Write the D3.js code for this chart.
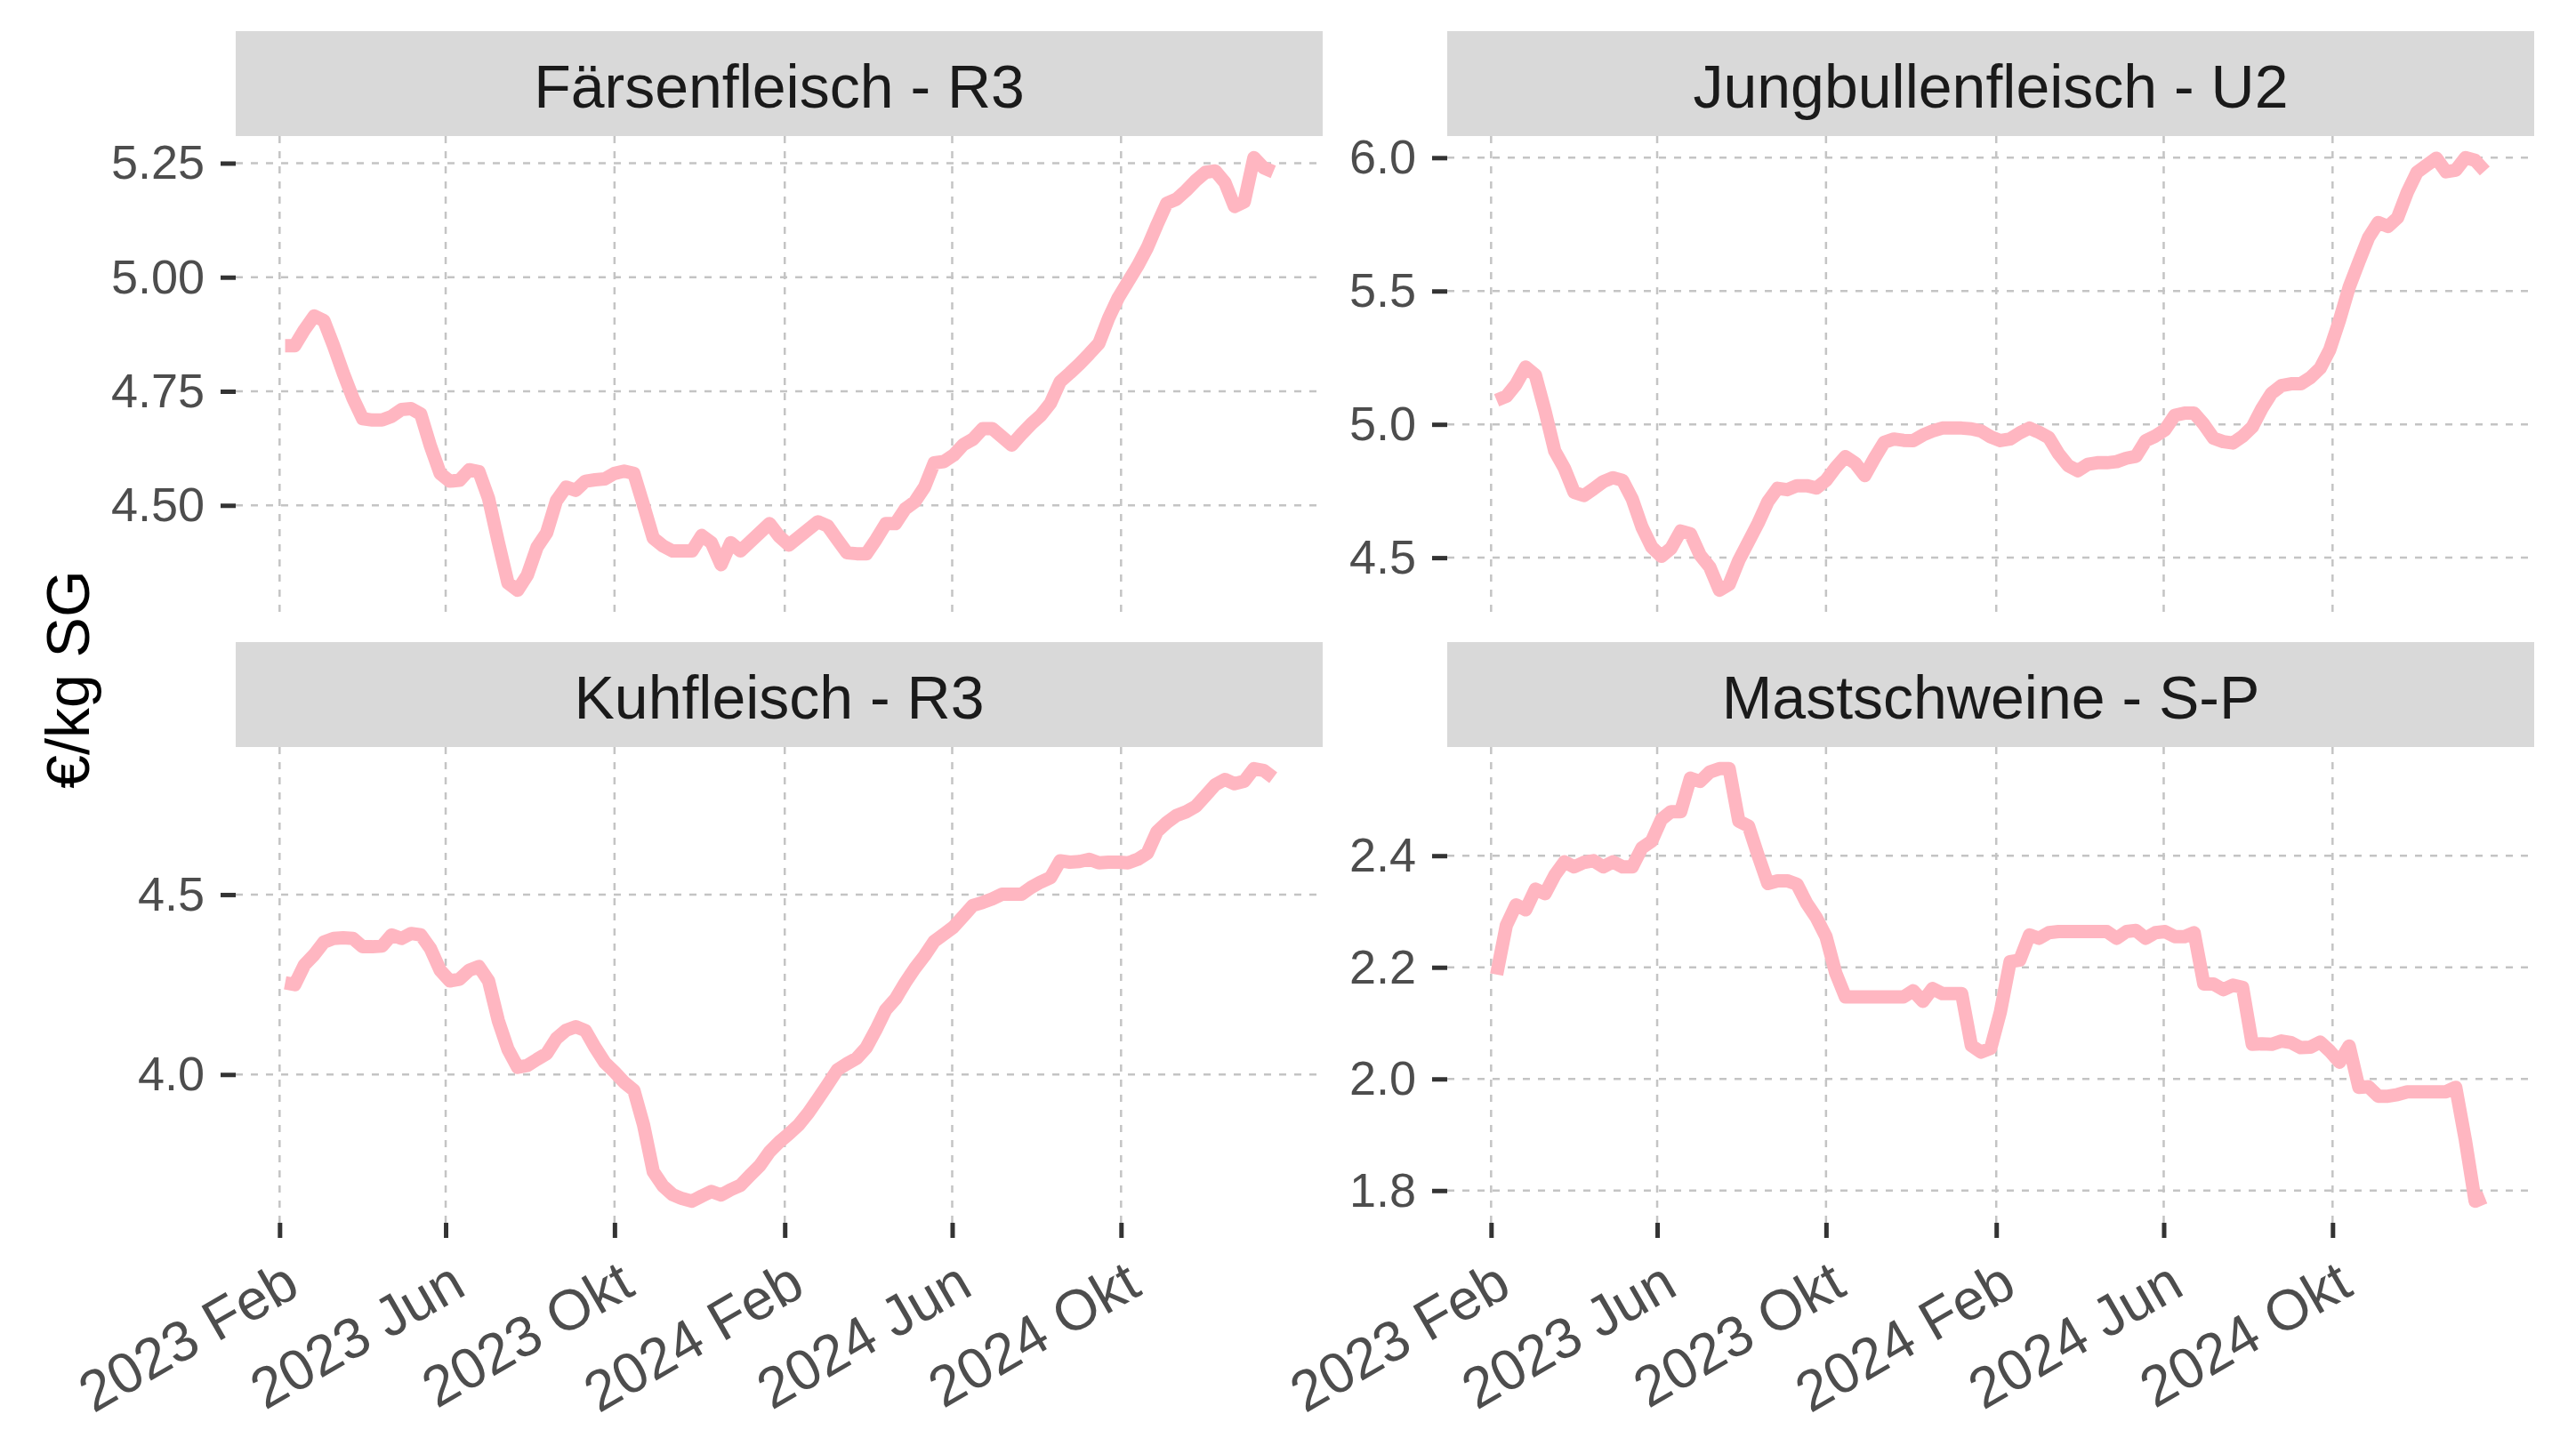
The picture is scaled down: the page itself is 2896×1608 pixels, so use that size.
<!DOCTYPE html>
<html>
<head>
<meta charset="utf-8">
<script src="https://cdn.jsdelivr.net/npm/d3@7"></script>
<style>
  html, body { margin: 0; padding: 0; background: #fff; }
  svg { display: block; }
</style>
</head>
<body>
<svg id="chart" width="2896" height="1608"></svg>
<script>
/* ============================================================
   Schlachtpreise — 4 facets (free y), weekly prices in €/kg SG
   ============================================================ */

// weekly reporting dates (Sundays)
var weeks = [
  "2023-02-05", "2023-02-12", "2023-02-19", "2023-02-26", "2023-03-05", "2023-03-12", "2023-03-19", "2023-03-26",
  "2023-04-02", "2023-04-09", "2023-04-16", "2023-04-23", "2023-04-30", "2023-05-07", "2023-05-14", "2023-05-21",
  "2023-05-28", "2023-06-04", "2023-06-11", "2023-06-18", "2023-06-25", "2023-07-02", "2023-07-09", "2023-07-16",
  "2023-07-23", "2023-07-30", "2023-08-06", "2023-08-13", "2023-08-20", "2023-08-27", "2023-09-03", "2023-09-10",
  "2023-09-17", "2023-09-24", "2023-10-01", "2023-10-08", "2023-10-15", "2023-10-22", "2023-10-29", "2023-11-05",
  "2023-11-12", "2023-11-19", "2023-11-26", "2023-12-03", "2023-12-10", "2023-12-17", "2023-12-24", "2023-12-31",
  "2024-01-07", "2024-01-14", "2024-01-21", "2024-01-28", "2024-02-04", "2024-02-11", "2024-02-18", "2024-02-25",
  "2024-03-03", "2024-03-10", "2024-03-17", "2024-03-24", "2024-03-31", "2024-04-07", "2024-04-14", "2024-04-21",
  "2024-04-28", "2024-05-05", "2024-05-12", "2024-05-19", "2024-05-26", "2024-06-02", "2024-06-09", "2024-06-16",
  "2024-06-23", "2024-06-30", "2024-07-07", "2024-07-14", "2024-07-21", "2024-07-28", "2024-08-04", "2024-08-11",
  "2024-08-18", "2024-08-25", "2024-09-01", "2024-09-08", "2024-09-15", "2024-09-22", "2024-09-29", "2024-10-06",
  "2024-10-13", "2024-10-20", "2024-10-27", "2024-11-03", "2024-11-10", "2024-11-17", "2024-11-24", "2024-12-01",
  "2024-12-08", "2024-12-15", "2024-12-22", "2024-12-29", "2025-01-05", "2025-01-12", "2025-01-19"
];

var faersen = [
  4.85, 4.85, 4.885, 4.915, 4.905, 4.85, 4.79, 4.735, 4.69, 4.687,
  4.687, 4.695, 4.71, 4.712, 4.70, 4.63, 4.57, 4.553, 4.555, 4.578,
  4.574, 4.515, 4.42, 4.33, 4.314, 4.347, 4.408, 4.44, 4.51, 4.54,
  4.533, 4.553, 4.556, 4.558, 4.57, 4.575, 4.57, 4.50, 4.428, 4.411,
  4.40, 4.40, 4.40, 4.434, 4.418, 4.37, 4.418, 4.40, 4.42, 4.44,
  4.46, 4.432, 4.413, 4.43, 4.447, 4.464, 4.455, 4.425, 4.396, 4.394,
  4.394, 4.425, 4.46, 4.46, 4.492, 4.508, 4.54, 4.593, 4.596, 4.61,
  4.633, 4.645, 4.668, 4.668, 4.65, 4.632, 4.656, 4.678, 4.697, 4.724,
  4.771, 4.79, 4.81, 4.832, 4.855, 4.91, 4.955, 4.99, 5.025, 5.065,
  5.115, 5.162, 5.171, 5.19, 5.212, 5.23, 5.233, 5.208, 5.155, 5.165,
  5.262, 5.24, 5.231
];

var jungbullen = [
  5.09, 5.105, 5.15, 5.215, 5.185, 5.05, 4.90, 4.835, 4.745, 4.733,
  4.758, 4.785, 4.80, 4.79, 4.72, 4.615, 4.54, 4.505, 4.535, 4.60,
  4.59, 4.51, 4.465, 4.378, 4.40, 4.49, 4.56, 4.63, 4.71, 4.76,
  4.755, 4.77, 4.77, 4.761, 4.79, 4.838, 4.879, 4.855, 4.808, 4.873,
  4.933, 4.945, 4.94, 4.939, 4.96, 4.975, 4.986, 4.986, 4.986, 4.983,
  4.975, 4.953, 4.939, 4.945, 4.968, 4.986, 4.97, 4.95, 4.89, 4.845,
  4.826, 4.85, 4.856, 4.856, 4.86, 4.873, 4.88, 4.939, 4.956, 4.98,
  5.034, 5.042, 5.042, 5.00, 4.948, 4.935, 4.93, 4.955, 4.99, 5.06,
  5.117, 5.145, 5.152, 5.152, 5.175, 5.21, 5.28, 5.39, 5.514, 5.609,
  5.70, 5.757, 5.742, 5.775, 5.87, 5.945, 5.972, 5.998, 5.947, 5.953,
  6.0, 5.99, 5.95
];

var kuh = [
  4.255, 4.25, 4.305, 4.333, 4.368, 4.378, 4.38, 4.378, 4.355, 4.355,
  4.357, 4.388, 4.378, 4.392, 4.388, 4.35, 4.29, 4.26, 4.265, 4.29,
  4.30, 4.26, 4.15, 4.07, 4.02, 4.025, 4.042, 4.058, 4.10, 4.123,
  4.133, 4.122, 4.075, 4.033, 4.007, 3.978, 3.956, 3.86, 3.73, 3.69,
  3.666, 3.655, 3.648, 3.662, 3.675, 3.665, 3.68, 3.692, 3.72, 3.747,
  3.785, 3.812, 3.835, 3.86, 3.893, 3.932, 3.972, 4.013, 4.03, 4.045,
  4.075, 4.125, 4.18, 4.21, 4.255, 4.295, 4.33, 4.37, 4.39, 4.41,
  4.44, 4.47, 4.478, 4.488, 4.501, 4.501, 4.501, 4.52, 4.535, 4.547,
  4.594, 4.59, 4.592, 4.598, 4.588, 4.59, 4.59, 4.588, 4.598, 4.615,
  4.675, 4.70, 4.72, 4.73, 4.745, 4.775, 4.805, 4.82, 4.808, 4.815,
  4.85, 4.845, 4.825
];

var mast = [
  2.187, 2.275, 2.312, 2.303, 2.340, 2.332, 2.365, 2.389, 2.380, 2.388,
  2.391, 2.380, 2.389, 2.380, 2.380, 2.414, 2.426, 2.465, 2.479, 2.479,
  2.539, 2.533, 2.550, 2.556, 2.556, 2.462, 2.453, 2.40, 2.35, 2.355,
  2.355, 2.349, 2.315, 2.289, 2.255, 2.19, 2.147, 2.147, 2.147, 2.147,
  2.147, 2.147, 2.147, 2.158, 2.139, 2.162, 2.153, 2.153, 2.153, 2.06,
  2.048, 2.055, 2.12, 2.21, 2.213, 2.258, 2.252, 2.262, 2.264, 2.264,
  2.264, 2.264, 2.264, 2.264, 2.252, 2.264, 2.266, 2.252, 2.262, 2.264,
  2.255, 2.255, 2.262, 2.17, 2.170, 2.160, 2.168, 2.164, 2.062, 2.063,
  2.062, 2.068, 2.065, 2.056, 2.057, 2.066, 2.05, 2.03, 2.059, 1.985,
  1.986, 1.969, 1.969, 1.972, 1.977, 1.977, 1.977, 1.977, 1.977, 1.985,
  1.89, 1.781, 1.788
];

var panelTitles = ["Färsenfleisch - R3", "Jungbullenfleisch - U2", "Kuhfleisch - R3", "Mastschweine - S-P"];

var yTicksFaersen = [4.5, 4.75, 5.0, 5.25];
var yTicksJungbullen = [4.5, 5.0, 5.5, 6.0];
var yTicksKuh = [4.0, 4.5];
var yTicksMast = [1.8, 2.0, 2.2, 2.4];

var xTickDates = ["2023-02-01", "2023-06-01", "2023-10-01", "2024-02-01", "2024-06-01", "2024-10-01"];
var xTickLabels = ["2023 Feb", "2023 Jun", "2023 Okt", "2024 Feb", "2024 Jun", "2024 Okt"];

var yTitle = "€/kg SG";

(function () {
  var W = 2896, H = 1608;
  var FONT = '"Liberation Sans", Arial, Helvetica, sans-serif';

  // facet layout
  var colX = [265, 1627];
  var rowY = [35, 722];
  var panelW = 1222;
  var stripH = 118;
  var panelH = 535;

  var lineColor = "#FFB6C1";
  var gridColor = "#C4C4C4";

  var parse = d3.timeParse("%Y-%m-%d");
  var dates = weeks.map(parse);
  var xTicks = xTickDates.map(parse);

  var svg = d3.select("#chart");
  svg.append("rect").attr("width", W).attr("height", H).attr("fill", "#fff");

  // shared x scale (ggplot style 5% expansion)
  var t0 = d3.min(dates), t1 = d3.max(dates);
  var pad = (t1 - t0) * 0.05;
  var x = d3
    .scaleTime()
    .domain([new Date(+t0 - pad), new Date(+t1 + pad)])
    .range([0, panelW]);

  var panels = [
    { title: panelTitles[0], values: faersen, ticks: yTicksFaersen, fmt: ".2f", col: 0, row: 0 },
    { title: panelTitles[1], values: jungbullen, ticks: yTicksJungbullen, fmt: ".1f", col: 1, row: 0 },
    { title: panelTitles[2], values: kuh, ticks: yTicksKuh, fmt: ".1f", col: 0, row: 1 },
    { title: panelTitles[3], values: mast, ticks: yTicksMast, fmt: ".1f", col: 1, row: 1 },
  ];

  panels.forEach(drawPanel);

  /* ---- y axis title ---- */
  svg
    .append("text")
    .attr("transform", "translate(100," + (rowY[0] + stripH + (rowY[1] + stripH + panelH - rowY[0] - stripH) / 2) + ") rotate(-90)")
    .attr("text-anchor", "middle")
    .attr("font-family", FONT)
    .attr("font-size", 68)
    .attr("fill", "#000")
    .text(yTitle);

  /* ---- one facet ---- */
  function drawPanel(p) {
    var g = svg
      .append("g")
      .attr("transform", "translate(" + colX[p.col] + "," + rowY[p.row] + ")");

    // strip
    g.append("rect")
      .attr("width", panelW)
      .attr("height", stripH)
      .attr("fill", "#D9D9D9");
    g.append("text")
      .attr("x", panelW / 2)
      .attr("y", 86)
      .attr("text-anchor", "middle")
      .attr("font-family", FONT)
      .attr("font-size", 68)
      .attr("fill", "#1A1A1A")
      .text(p.title);

    var pg = g.append("g").attr("transform", "translate(0," + stripH + ")");

    var ext = d3.extent(p.values);
    var r = ext[1] - ext[0];
    var y = d3
      .scaleLinear()
      .domain([ext[0] - r * 0.05, ext[1] + r * 0.05])
      .range([panelH, 0]);

    // grid
    pg.append("g")
      .selectAll("line")
      .data(p.ticks)
      .join("line")
      .attr("x1", 0)
      .attr("x2", panelW)
      .attr("y1", function (d) { return y(d); })
      .attr("y2", function (d) { return y(d); })
      .attr("stroke", gridColor)
      .attr("stroke-width", 2.5)
      .attr("stroke-dasharray", "8,9");
    pg.append("g")
      .selectAll("line")
      .data(xTicks)
      .join("line")
      .attr("x1", function (d) { return x(d); })
      .attr("x2", function (d) { return x(d); })
      .attr("y1", 0)
      .attr("y2", panelH)
      .attr("stroke", gridColor)
      .attr("stroke-width", 2.5)
      .attr("stroke-dasharray", "8,9");

    // price line
    var line = d3
      .line()
      .x(function (d, i) { return x(dates[i]); })
      .y(function (d) { return y(d); });
    pg.append("path")
      .datum(p.values)
      .attr("d", line)
      .attr("fill", "none")
      .attr("stroke", lineColor)
      .attr("stroke-width", 15)
      .attr("stroke-linejoin", "round")
      .attr("stroke-linecap", "butt");

    // y axis
    var ya = pg
      .append("g")
      .call(
        d3.axisLeft(y)
          .tickValues(p.ticks)
          .tickFormat(d3.format(p.fmt))
          .tickSize(17)
          .tickPadding(18)
      );
    ya.attr("font-family", FONT).attr("font-size", 54);
    ya.select(".domain").remove();
    ya.selectAll(".tick line").attr("stroke", "#333333").attr("stroke-width", 5);
    ya.selectAll(".tick text").attr("fill", "#4D4D4D");

    // x axis only on bottom row
    if (p.row === 1) {
      var xa = pg
        .append("g")
        .attr("transform", "translate(0," + panelH + ")")
        .call(
          d3.axisBottom(x)
            .tickValues(xTicks)
            .tickFormat(function (d, i) { return xTickLabels[i]; })
            .tickSize(17)
        );
      xa.attr("font-family", FONT).attr("font-size", 64);
      xa.select(".domain").remove();
      xa.selectAll(".tick line").attr("stroke", "#333333").attr("stroke-width", 5);
      xa.selectAll(".tick text")
        .attr("fill", "#4D4D4D")
        .attr("x", 0)
        .attr("y", 0)
        .attr("dy", "0.71em")
        .attr("text-anchor", "end")
        .attr("transform", "translate(2,40) rotate(-30)");
    }
  }
})();
</script>
</body>
</html>
